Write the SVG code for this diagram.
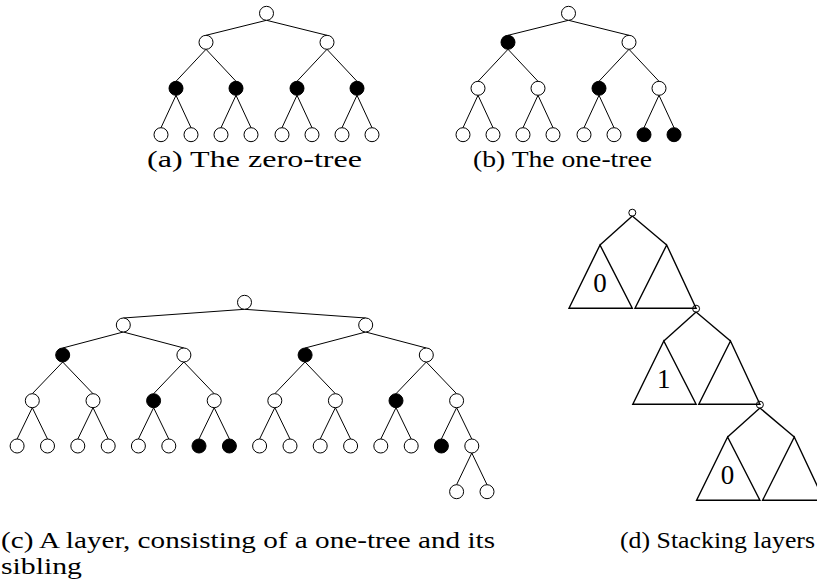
<svg xmlns="http://www.w3.org/2000/svg" width="817" height="581" viewBox="0 0 817 581">
<style>
.n{fill:#fff;stroke:#000;stroke-width:1}
.k{fill:#000;stroke:#000;stroke-width:1}
.e line{stroke:#000;stroke-width:1}
.t{fill:#fff;stroke:#000;stroke-width:1.4;stroke-linejoin:miter}
.s{fill:none;stroke:#000;stroke-width:1}
.d line{stroke:#000;stroke-width:1.4}
.cap{font-family:"Liberation Serif","Times New Roman",serif;font-size:23px;fill:#000}
.lab{font-family:"Liberation Serif","Times New Roman",serif;font-size:27px;fill:#000;text-anchor:middle}
</style>
<rect width="817" height="581" fill="#fff"/>

<!-- Tree (a) connectors -->
<g id="edges-a" class="e">
<line x1="266.5" y1="20.3" x2="206" y2="35.3"/><line x1="266.5" y1="20.3" x2="327" y2="35.3"/>
<line x1="206" y1="49.3" x2="176" y2="81.3"/><line x1="206" y1="49.3" x2="236" y2="81.3"/>
<line x1="327" y1="49.3" x2="297" y2="81.3"/><line x1="327" y1="49.3" x2="357" y2="81.3"/>
<line x1="176" y1="95.3" x2="161" y2="127.7"/><line x1="176" y1="95.3" x2="191" y2="127.7"/>
<line x1="236" y1="95.3" x2="221" y2="127.7"/><line x1="236" y1="95.3" x2="251" y2="127.7"/>
<line x1="297" y1="95.3" x2="282" y2="127.7"/><line x1="297" y1="95.3" x2="312" y2="127.7"/>
<line x1="357" y1="95.3" x2="342" y2="127.7"/><line x1="357" y1="95.3" x2="372" y2="127.7"/>
</g>
<g id="tree-a">
<g id="a0"><circle class="n" cx="266.5" cy="13.3" r="7"/></g>
<g id="a1"><circle class="n" cx="206" cy="42.3" r="7"/></g>
<g id="a2"><circle class="n" cx="327" cy="42.3" r="7"/></g>
<g id="a3"><circle class="k" cx="176" cy="88.3" r="7"/></g>
<g id="a4"><circle class="k" cx="236" cy="88.3" r="7"/></g>
<g id="a5"><circle class="k" cx="297" cy="88.3" r="7"/></g>
<g id="a6"><circle class="k" cx="357" cy="88.3" r="7"/></g>
<g id="a7"><circle class="n" cx="161" cy="134.7" r="7"/></g>
<g id="a8"><circle class="n" cx="191" cy="134.7" r="7"/></g>
<g id="a9"><circle class="n" cx="221" cy="134.7" r="7"/></g>
<g id="a10"><circle class="n" cx="251" cy="134.7" r="7"/></g>
<g id="a11"><circle class="n" cx="282" cy="134.7" r="7"/></g>
<g id="a12"><circle class="n" cx="312" cy="134.7" r="7"/></g>
<g id="a13"><circle class="n" cx="342" cy="134.7" r="7"/></g>
<g id="a14"><circle class="n" cx="372" cy="134.7" r="7"/></g>
</g>
<text class="cap" x="147" y="167" textLength="215" lengthAdjust="spacingAndGlyphs">(a)  The zero-tree</text>

<!-- Tree (b) connectors -->
<g id="edges-b" class="e">
<line x1="568.5" y1="20.3" x2="508" y2="35.3"/><line x1="568.5" y1="20.3" x2="629" y2="35.3"/>
<line x1="508" y1="49.3" x2="478" y2="81.3"/><line x1="508" y1="49.3" x2="538" y2="81.3"/>
<line x1="629" y1="49.3" x2="599" y2="81.3"/><line x1="629" y1="49.3" x2="659" y2="81.3"/>
<line x1="478" y1="95.3" x2="463" y2="127.7"/><line x1="478" y1="95.3" x2="493" y2="127.7"/>
<line x1="538" y1="95.3" x2="523" y2="127.7"/><line x1="538" y1="95.3" x2="553" y2="127.7"/>
<line x1="599" y1="95.3" x2="584" y2="127.7"/><line x1="599" y1="95.3" x2="614" y2="127.7"/>
<line x1="659" y1="95.3" x2="644" y2="127.7"/><line x1="659" y1="95.3" x2="674" y2="127.7"/>
</g>
<g id="tree-b">
<g id="b0"><circle class="n" cx="568.5" cy="13.3" r="7"/></g>
<g id="b1"><circle class="k" cx="508" cy="42.3" r="7"/></g>
<g id="b2"><circle class="n" cx="629" cy="42.3" r="7"/></g>
<g id="b3"><circle class="n" cx="478" cy="88.3" r="7"/></g>
<g id="b4"><circle class="n" cx="538" cy="88.3" r="7"/></g>
<g id="b5"><circle class="k" cx="599" cy="88.3" r="7"/></g>
<g id="b6"><circle class="n" cx="659" cy="88.3" r="7"/></g>
<g id="b7"><circle class="n" cx="463" cy="134.7" r="7"/></g>
<g id="b8"><circle class="n" cx="493" cy="134.7" r="7"/></g>
<g id="b9"><circle class="n" cx="523" cy="134.7" r="7"/></g>
<g id="b10"><circle class="n" cx="553" cy="134.7" r="7"/></g>
<g id="b11"><circle class="n" cx="584" cy="134.7" r="7"/></g>
<g id="b12"><circle class="n" cx="614" cy="134.7" r="7"/></g>
<g id="b13"><circle class="k" cx="644" cy="134.7" r="7"/></g>
<g id="b14"><circle class="k" cx="674" cy="134.7" r="7"/></g>
</g>
<text class="cap" x="473" y="167" textLength="179" lengthAdjust="spacingAndGlyphs">(b)  The one-tree</text>

<!-- Tree (c) connectors -->
<g id="edges-c" class="e">
<line x1="244.5" y1="309.3" x2="123.3" y2="318"/><line x1="244.5" y1="309.3" x2="365.7" y2="318"/>
<line x1="123.3" y1="332" x2="62.7" y2="348"/><line x1="123.3" y1="332" x2="183.9" y2="348"/>
<line x1="365.7" y1="332" x2="305.1" y2="348"/><line x1="365.7" y1="332" x2="426.3" y2="348"/>
<line x1="62.7" y1="362" x2="32.3" y2="393.7"/><line x1="62.7" y1="362" x2="93" y2="393.7"/>
<line x1="183.9" y1="362" x2="153.6" y2="393.7"/><line x1="183.9" y1="362" x2="214.2" y2="393.7"/>
<line x1="305.1" y1="362" x2="274.8" y2="393.7"/><line x1="305.1" y1="362" x2="335.4" y2="393.7"/>
<line x1="426.3" y1="362" x2="396" y2="393.7"/><line x1="426.3" y1="362" x2="456.6" y2="393.7"/>
<line x1="32.3" y1="407.7" x2="17.1" y2="439"/><line x1="32.3" y1="407.7" x2="47.5" y2="439"/>
<line x1="93" y1="407.7" x2="77.8" y2="439"/><line x1="93" y1="407.7" x2="108.2" y2="439"/>
<line x1="153.6" y1="407.7" x2="138.4" y2="439"/><line x1="153.6" y1="407.7" x2="168.8" y2="439"/>
<line x1="214.2" y1="407.7" x2="199" y2="439"/><line x1="214.2" y1="407.7" x2="229.4" y2="439"/>
<line x1="274.8" y1="407.7" x2="259.6" y2="439"/><line x1="274.8" y1="407.7" x2="290" y2="439"/>
<line x1="335.4" y1="407.7" x2="320.2" y2="439"/><line x1="335.4" y1="407.7" x2="350.6" y2="439"/>
<line x1="396" y1="407.7" x2="380.8" y2="439"/><line x1="396" y1="407.7" x2="411.2" y2="439"/>
<line x1="456.6" y1="407.7" x2="441.4" y2="439"/><line x1="456.6" y1="407.7" x2="471.8" y2="439"/>
<line x1="471.8" y1="453" x2="456.6" y2="484.7"/><line x1="471.8" y1="453" x2="487" y2="484.7"/>
</g>
<g id="tree-c">
<g id="c0"><circle class="n" cx="244.5" cy="302.3" r="7"/></g>
<g id="c1"><circle class="n" cx="123.3" cy="325" r="7"/></g>
<g id="c2"><circle class="n" cx="365.7" cy="325" r="7"/></g>
<g id="c3"><circle class="k" cx="62.7" cy="355" r="7"/></g>
<g id="c4"><circle class="n" cx="183.9" cy="355" r="7"/></g>
<g id="c5"><circle class="k" cx="305.1" cy="355" r="7"/></g>
<g id="c6"><circle class="n" cx="426.3" cy="355" r="7"/></g>
<g id="c7"><circle class="n" cx="32.3" cy="400.7" r="7"/></g>
<g id="c8"><circle class="n" cx="93" cy="400.7" r="7"/></g>
<g id="c9"><circle class="k" cx="153.6" cy="400.7" r="7"/></g>
<g id="c10"><circle class="n" cx="214.2" cy="400.7" r="7"/></g>
<g id="c11"><circle class="n" cx="274.8" cy="400.7" r="7"/></g>
<g id="c12"><circle class="n" cx="335.4" cy="400.7" r="7"/></g>
<g id="c13"><circle class="k" cx="396" cy="400.7" r="7"/></g>
<g id="c14"><circle class="n" cx="456.6" cy="400.7" r="7"/></g>
<g id="c15"><circle class="n" cx="17.1" cy="446" r="7"/></g>
<g id="c16"><circle class="n" cx="47.5" cy="446" r="7"/></g>
<g id="c17"><circle class="n" cx="77.8" cy="446" r="7"/></g>
<g id="c18"><circle class="n" cx="108.2" cy="446" r="7"/></g>
<g id="c19"><circle class="n" cx="138.4" cy="446" r="7"/></g>
<g id="c20"><circle class="n" cx="168.8" cy="446" r="7"/></g>
<g id="c21"><circle class="k" cx="199" cy="446" r="7"/></g>
<g id="c22"><circle class="k" cx="229.4" cy="446" r="7"/></g>
<g id="c23"><circle class="n" cx="259.6" cy="446" r="7"/></g>
<g id="c24"><circle class="n" cx="290" cy="446" r="7"/></g>
<g id="c25"><circle class="n" cx="320.2" cy="446" r="7"/></g>
<g id="c26"><circle class="n" cx="350.6" cy="446" r="7"/></g>
<g id="c27"><circle class="n" cx="380.8" cy="446" r="7"/></g>
<g id="c28"><circle class="n" cx="411.2" cy="446" r="7"/></g>
<g id="c29"><circle class="k" cx="441.4" cy="446" r="7"/></g>
<g id="c30"><circle class="n" cx="471.8" cy="446" r="7"/></g>
<g id="c31"><circle class="n" cx="456.6" cy="491.7" r="7"/></g>
<g id="c32"><circle class="n" cx="487" cy="491.7" r="7"/></g>
</g>
<text class="cap" x="1" y="548" textLength="494" lengthAdjust="spacingAndGlyphs">(c)  A layer, consisting of a one-tree and its</text>
<text class="cap" x="1" y="574" textLength="81" lengthAdjust="spacingAndGlyphs">sibling</text>

<!-- (d) Stacking layers -->
<g id="edges-d" class="d">
<line x1="632.3" y1="216" x2="600" y2="245"/><line x1="632.3" y1="216" x2="666.7" y2="245"/>
<line x1="696.1" y1="312" x2="663.8" y2="341"/><line x1="696.1" y1="312" x2="730.5" y2="341"/>
<line x1="759.9" y1="408" x2="727.6" y2="437"/><line x1="759.9" y1="408" x2="794.3" y2="437"/>
</g>
<g id="tri-0L"><polygon class="t" points="600,245 569,308.3 632.3,308.3"/><text class="lab" x="600" y="291.5">0</text></g>
<g id="tri-0R"><polygon class="t" points="666.7,245 635,308.3 696.1,308.3"/></g>
<g id="tri-1L"><polygon class="t" points="663.8,341 632.8,404.3 696.1,404.3"/><text class="lab" x="663.8" y="387.5">1</text></g>
<g id="tri-1R"><polygon class="t" points="730.5,341 698.8,404.3 759.9,404.3"/></g>
<g id="tri-2L"><polygon class="t" points="727.6,437 696.6,500.3 759.9,500.3"/><text class="lab" x="727.6" y="484">0</text></g>
<g id="tri-2R"><polygon class="t" points="794.3,437 762.6,500.3 824,500.3"/></g>
<g id="s0"><circle class="s" cx="632.3" cy="212.7" r="3.5"/></g>
<g id="s1"><circle class="s" cx="696.1" cy="308.7" r="3.5"/></g>
<g id="s2"><circle class="s" cx="759.9" cy="404.7" r="3.5"/></g>
<text class="cap" x="620" y="548" textLength="195" lengthAdjust="spacingAndGlyphs">(d)  Stacking layers</text>
</svg>
